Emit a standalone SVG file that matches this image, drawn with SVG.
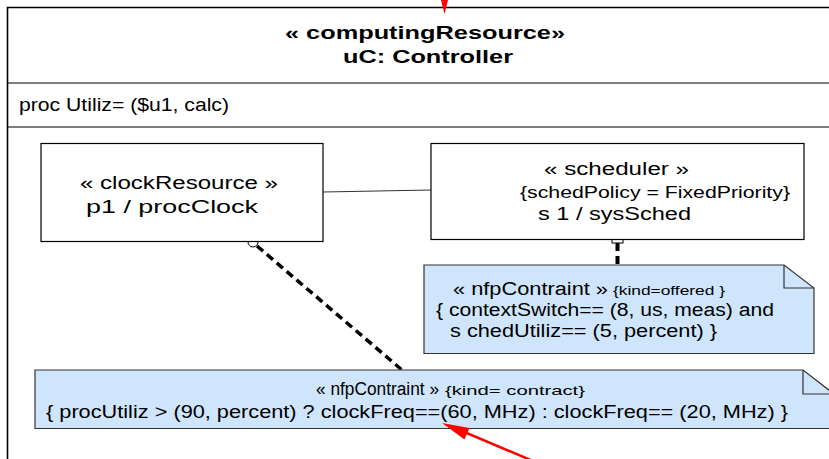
<svg xmlns="http://www.w3.org/2000/svg" width="829" height="459" viewBox="0 0 829 459">
<style>
text{font-family:"Liberation Sans",Arial,sans-serif;fill:#000}
.t{font-size:19px;font-weight:bold}
.b{font-size:18px}
.s{font-size:13px}
.m{font-size:16px}
.box{fill:#fff;stroke:#000;stroke-width:1.2}
.note{fill:#cfe5fb;stroke:#333;stroke-width:1.2}
.red{fill:#ff0000;stroke:none}
</style>
<rect width="829" height="459" fill="#fff"/>
<g id="uC">
<path d="M7.5 470 V7.5 H840" fill="none" stroke="#000" stroke-width="1.6"/>
<line x1="7" y1="83" x2="829" y2="83" stroke="#000" stroke-width="1.2"/>
<line x1="7" y1="127" x2="829" y2="127" stroke="#000" stroke-width="1.2"/>
<text class="t" x="285" y="39" textLength="280" lengthAdjust="spacingAndGlyphs">« computingResource»</text>
<text class="t" x="343" y="63" textLength="170" lengthAdjust="spacingAndGlyphs">uC: Controller</text>
<text class="b" x="19" y="111" textLength="210" lengthAdjust="spacingAndGlyphs">proc Utiliz= ($u1, calc)</text>
</g>
<g id="connectors">
<line x1="323" y1="192" x2="431" y2="190" stroke="#333" stroke-width="1"/>
<line x1="257" y1="246" x2="402" y2="370" stroke="#000" stroke-width="3.5" stroke-dasharray="8 5"/>
<line x1="617.5" y1="243" x2="617.5" y2="265" stroke="#000" stroke-width="4" stroke-dasharray="8 5"/>
<circle cx="253" cy="242" r="5" fill="#fff" stroke="#000" stroke-width="1"/>
<rect x="612" y="235" width="11" height="8" fill="#fff" stroke="#000" stroke-width="1"/>
</g>
<g id="p1">
<rect class="box" x="41" y="143.5" width="282" height="98"/>
<text class="b" x="80" y="189" textLength="198" lengthAdjust="spacingAndGlyphs">« clockResource »</text>
<text class="b" x="86" y="213" textLength="172" lengthAdjust="spacingAndGlyphs">p1 / procClock</text>
</g>
<g id="s1">
<rect class="box" x="431" y="143.5" width="373" height="96"/>
<text class="b" x="544" y="175" textLength="145" lengthAdjust="spacingAndGlyphs">« scheduler »</text>
<text class="m" x="520" y="198" textLength="270" lengthAdjust="spacingAndGlyphs">{schedPolicy = FixedPriority}</text>
<text class="b" x="538" y="220" textLength="153" lengthAdjust="spacingAndGlyphs">s 1 / sysSched</text>
</g>
<g id="note1">
<path class="note" d="M424 265 H784 L814 288 V353.5 H424 Z"/>
<path d="M784 265 V288 H814" fill="none" stroke="#333" stroke-width="1.2"/>
<text class="b" x="453" y="295" textLength="155" lengthAdjust="spacingAndGlyphs">« nfpContraint »</text>
<text class="s" x="613" y="295" textLength="112" lengthAdjust="spacingAndGlyphs">{kind=offered }</text>
<text class="b" x="436" y="316" textLength="338" lengthAdjust="spacingAndGlyphs">{ contextSwitch== (8, us, meas) and</text>
<text class="b" x="450" y="337" textLength="267" lengthAdjust="spacingAndGlyphs">s chedUtiliz== (5, percent) }</text>
</g>
<g id="note2">
<path class="note" d="M35 370 H803 L834 394 V428.5 H35 Z"/>
<path d="M803 370 V394 H834" fill="none" stroke="#333" stroke-width="1.2"/>
<text class="b" x="316" y="395" textLength="123" lengthAdjust="spacingAndGlyphs">« nfpContraint »</text>
<text class="s" x="445" y="395" textLength="140" lengthAdjust="spacingAndGlyphs">{kind= contract}</text>
<text class="b" x="46" y="418" textLength="742" lengthAdjust="spacingAndGlyphs">{ procUtiliz &gt; (90, percent) ? clockFreq==(60, MHz) : clockFreq== (20, MHz) }</text>
</g>
<g id="annotations">
<polygon class="red" points="441,0 448,0 444.5,14"/>
<line x1="533" y1="461" x2="462" y2="431" stroke="#ff0000" stroke-width="2.5"/>
<polygon class="red" points="442,423 469.5,428 464.5,439.5"/>
</g>
</svg>
